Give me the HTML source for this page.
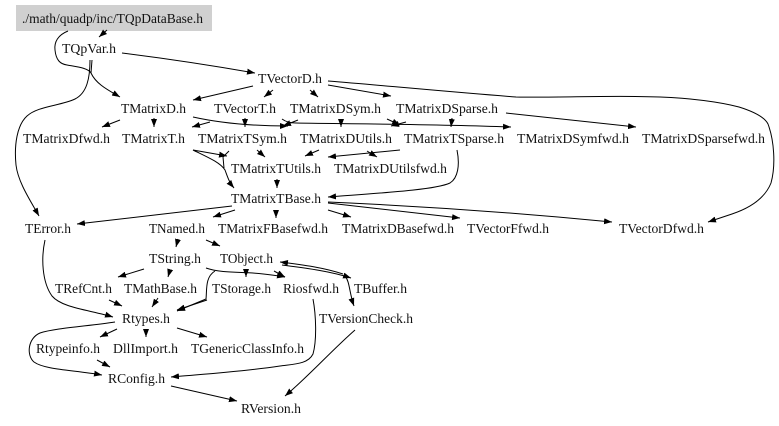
<!DOCTYPE html>
<html><head><meta charset="utf-8"><style>
html,body{margin:0;padding:0;background:#fff}
svg{display:block}
text{font-family:"Liberation Serif",serif;font-size:13.3px;fill:#111}
path{fill:none;stroke:#000;stroke-width:1}
</style></head><body>
<svg width="779" height="426" viewBox="0 0 779 426" xmlns="http://www.w3.org/2000/svg">
<defs><marker id="a" markerUnits="userSpaceOnUse" markerWidth="9" markerHeight="7" refX="8" refY="3.5" orient="auto"><polygon points="0,0.5 8,3.5 0,6.5" fill="#000"/></marker></defs>
<rect x="16" y="5" width="196" height="26" fill="#d0d0d0"/>
<g>
<text x="22" y="23" textLength="181" lengthAdjust="spacingAndGlyphs">./math/quadp/inc/TQpDataBase.h</text>
<text x="62" y="53" textLength="54" lengthAdjust="spacingAndGlyphs">TQpVar.h</text>
<text x="258" y="83" textLength="64" lengthAdjust="spacingAndGlyphs">TVectorD.h</text>
<text x="121" y="113" textLength="65" lengthAdjust="spacingAndGlyphs">TMatrixD.h</text>
<text x="214" y="113" textLength="62" lengthAdjust="spacingAndGlyphs">TVectorT.h</text>
<text x="290" y="113" textLength="91" lengthAdjust="spacingAndGlyphs">TMatrixDSym.h</text>
<text x="396" y="113" textLength="102" lengthAdjust="spacingAndGlyphs">TMatrixDSparse.h</text>
<text x="23" y="143" textLength="87" lengthAdjust="spacingAndGlyphs">TMatrixDfwd.h</text>
<text x="122" y="143" textLength="63" lengthAdjust="spacingAndGlyphs">TMatrixT.h</text>
<text x="198" y="143" textLength="89" lengthAdjust="spacingAndGlyphs">TMatrixTSym.h</text>
<text x="300" y="143" textLength="92" lengthAdjust="spacingAndGlyphs">TMatrixDUtils.h</text>
<text x="404" y="143" textLength="100" lengthAdjust="spacingAndGlyphs">TMatrixTSparse.h</text>
<text x="517" y="143" textLength="112" lengthAdjust="spacingAndGlyphs">TMatrixDSymfwd.h</text>
<text x="642" y="143" textLength="123" lengthAdjust="spacingAndGlyphs">TMatrixDSparsefwd.h</text>
<text x="231" y="173" textLength="90" lengthAdjust="spacingAndGlyphs">TMatrixTUtils.h</text>
<text x="334" y="173" textLength="113" lengthAdjust="spacingAndGlyphs">TMatrixDUtilsfwd.h</text>
<text x="231" y="203" textLength="90" lengthAdjust="spacingAndGlyphs">TMatrixTBase.h</text>
<text x="25" y="233" textLength="46" lengthAdjust="spacingAndGlyphs">TError.h</text>
<text x="149" y="233" textLength="56" lengthAdjust="spacingAndGlyphs">TNamed.h</text>
<text x="218" y="233" textLength="110" lengthAdjust="spacingAndGlyphs">TMatrixFBasefwd.h</text>
<text x="342" y="233" textLength="112" lengthAdjust="spacingAndGlyphs">TMatrixDBasefwd.h</text>
<text x="467" y="233" textLength="82" lengthAdjust="spacingAndGlyphs">TVectorFfwd.h</text>
<text x="619" y="233" textLength="85" lengthAdjust="spacingAndGlyphs">TVectorDfwd.h</text>
<text x="149" y="263" textLength="52" lengthAdjust="spacingAndGlyphs">TString.h</text>
<text x="220" y="263" textLength="53" lengthAdjust="spacingAndGlyphs">TObject.h</text>
<text x="55" y="293" textLength="57" lengthAdjust="spacingAndGlyphs">TRefCnt.h</text>
<text x="124" y="293" textLength="73" lengthAdjust="spacingAndGlyphs">TMathBase.h</text>
<text x="212" y="293" textLength="59" lengthAdjust="spacingAndGlyphs">TStorage.h</text>
<text x="283" y="293" textLength="56" lengthAdjust="spacingAndGlyphs">Riosfwd.h</text>
<text x="354" y="293" textLength="53" lengthAdjust="spacingAndGlyphs">TBuffer.h</text>
<text x="122" y="323" textLength="48" lengthAdjust="spacingAndGlyphs">Rtypes.h</text>
<text x="319" y="323" textLength="94" lengthAdjust="spacingAndGlyphs">TVersionCheck.h</text>
<text x="36" y="353" textLength="64" lengthAdjust="spacingAndGlyphs">Rtypeinfo.h</text>
<text x="113" y="353" textLength="65" lengthAdjust="spacingAndGlyphs">DllImport.h</text>
<text x="191" y="353" textLength="113" lengthAdjust="spacingAndGlyphs">TGenericClassInfo.h</text>
<text x="108" y="383" textLength="57" lengthAdjust="spacingAndGlyphs">RConfig.h</text>
<text x="241" y="413" textLength="60" lengthAdjust="spacingAndGlyphs">RVersion.h</text>
</g>
<g>
<path marker-end="url(#a)" d="M107,30L99,37"/>
<path marker-end="url(#a)" d="M68,31C58,35 54,42 55,50C56,60 60,64 67,65C78,67 88,68 91,73C96,84 108,90 120,97"/>
<path d="M92,60L91,73"/>
<path marker-end="url(#a)" d="M90,60C90,78 87,93 75,99C60,106 38,106 27,116C17,125 14,145 16,165C18,182 30,200 39,216"/>
<path marker-end="url(#a)" d="M122,53C170,59 215,66 255,73"/>
<path marker-end="url(#a)" d="M253,86L193,100"/>
<path marker-end="url(#a)" d="M273,90L264,97"/>
<path marker-end="url(#a)" d="M310,90L318,97"/>
<path marker-end="url(#a)" d="M328,85L391,96"/>
<path marker-end="url(#a)" d="M328,81C390,86 450,92 516,97C560,98 610,95 660,97C690,98 720,102 739,107C755,112 765,118 768,124C774,140 776,165 771,183C765,198 750,208 732,214L708,222"/>
<path marker-end="url(#a)" d="M120,120L102,127"/>
<path marker-end="url(#a)" d="M154,118L154,127"/>
<path marker-end="url(#a)" d="M193,117C220,123 250,126 288,126"/>
<path marker-end="url(#a)" d="M298,120L283,126"/>
<path marker-end="url(#a)" d="M210,122L192,127"/>
<path marker-end="url(#a)" d="M245,118L245,127"/>
<path marker-end="url(#a)" d="M282,119C286,122 290,123 296,123C350,124 430,124 511,127"/>
<path marker-end="url(#a)" d="M341,119L341,127"/>
<path marker-end="url(#a)" d="M387,119L400,125"/>
<path marker-end="url(#a)" d="M406,122L391,126"/>
<path marker-end="url(#a)" d="M452,118L451,127"/>
<path marker-end="url(#a)" d="M506,113L636,127"/>
<path marker-end="url(#a)" d="M193,150L227,156"/>
<path marker-end="url(#a)" d="M193,150C205,156 220,162 225,170C228,178 229,182 234,188"/>
<path d="M229,151L223,157L224,168"/>
<path marker-end="url(#a)" d="M257,150L265,157"/>
<path marker-end="url(#a)" d="M319,150L305,156"/>
<path marker-end="url(#a)" d="M400,150L328,157"/>
<path marker-end="url(#a)" d="M367,151L377,157"/>
<path marker-end="url(#a)" d="M457,150C460,165 458,178 450,183C435,190 380,193 328,197"/>
<path marker-end="url(#a)" d="M277,179L277,188"/>
<path marker-end="url(#a)" d="M232,206L77,224"/>
<path marker-end="url(#a)" d="M235,210L213,217"/>
<path marker-end="url(#a)" d="M276,210L276,218"/>
<path marker-end="url(#a)" d="M328,210L351,217"/>
<path marker-end="url(#a)" d="M328,203L460,218"/>
<path marker-end="url(#a)" d="M328,202C420,206 520,213 612,222"/>
<path marker-end="url(#a)" d="M178,239L176,247"/>
<path marker-end="url(#a)" d="M206,240L220,246"/>
<path marker-end="url(#a)" d="M144,269L118,277"/>
<path marker-end="url(#a)" d="M170,270L168,277"/>
<path marker-end="url(#a)" d="M206,268C220,273 240,272 253,273C265,274 275,275 285,277"/>
<path marker-end="url(#a)" d="M246,270L246,277"/>
<path marker-end="url(#a)" d="M274,271L285,277"/>
<path marker-end="url(#a)" d="M215,271C205,277 207,290 206,299L177,311"/>
<path marker-end="url(#a)" d="M207,300L177,310"/>
<path marker-end="url(#a)" d="M343,274C325,268 305,265 280,262"/>
<path marker-end="url(#a)" d="M282,265C305,268 330,271 351,278"/>
<path marker-end="url(#a)" d="M345,276C350,282 349,292 354,306"/>
<path marker-end="url(#a)" d="M109,300L122,306"/>
<path marker-end="url(#a)" d="M158,298L152,307"/>
<path marker-end="url(#a)" d="M45,240C41,258 42,282 52,296C62,308 90,310 113,317"/>
<path marker-end="url(#a)" d="M115,322C90,326 55,328 40,333C28,338 26,355 34,362C45,370 75,370 102,375"/>
<path marker-end="url(#a)" d="M117,329L100,337"/>
<path marker-end="url(#a)" d="M146,329L146,337"/>
<path marker-end="url(#a)" d="M177,328L207,337"/>
<path marker-end="url(#a)" d="M97,360L110,367"/>
<path marker-end="url(#a)" d="M313,299C316,315 317,340 313,354C308,364 295,364 280,366C240,372 205,374 171,377"/>
<path marker-end="url(#a)" d="M171,386L237,401"/>
<path marker-end="url(#a)" d="M355,330C330,352 310,375 285,396"/>
</g>
</svg>
</body></html>
